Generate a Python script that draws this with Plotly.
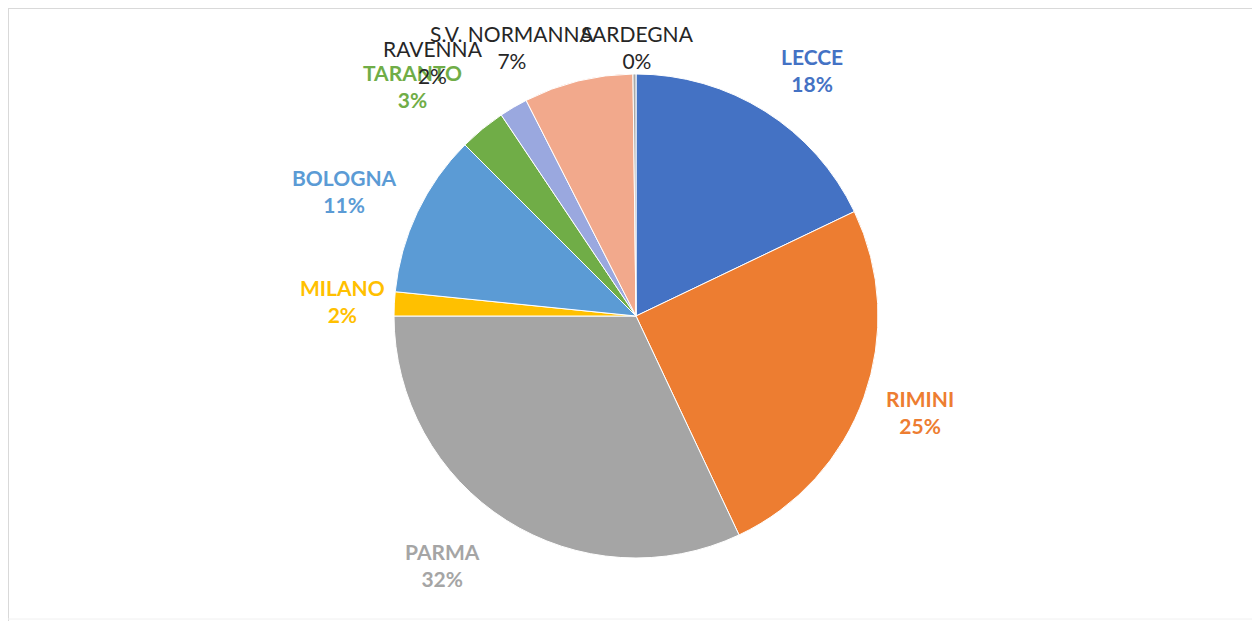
import plotly.graph_objects as go

# ---- data ----
labels = ["LECCE", "RIMINI", "PARMA", "MILANO", "BOLOGNA", "TARANTO",
          "RAVENNA", "S.V. NORMANNA", "SARDEGNA"]
values = [17.9, 25.1, 32.0, 1.6, 10.9, 3.1, 1.9, 7.3, 0.2]
colors = ["#4472C4", "#ED7D31", "#A5A5A5", "#FFC000", "#5B9BD5", "#70AD47",
          "#9AA8DF", "#F2A98C", "#A9A9A9"]
label_colors = ["#4472C4", "#ED7D31", "#A5A5A5", "#FFC000", "#5B9BD5", "#70AD47",
                "#262626", "#262626", "#262626"]
label_bold = [True, True, True, True, True, True, False, False, False]

# label anchor positions (target pixel coordinates) - styling only
label_px = [(812, 70), (920, 412), (442, 565), (342, 301), (344, 191),
            (412, 86), (433, 62), (512, 47), (637, 47)]

W, H = 1260, 621
OFF = 8  # page body margin offset in the browser
cx, cy, r = 636 - OFF, 316 - OFF, 242


def px_x(x):
    return (x - OFF) / W


def px_y(y):
    return 1 - (y - OFF) / H


fig = go.Figure(go.Pie(
    labels=labels, values=values, sort=False, direction="clockwise", rotation=0,
    marker=dict(colors=colors, line=dict(color="white", width=1)),
    textinfo="none", hoverinfo="label+percent", showlegend=False,
    domain=dict(x=[(cx - r) / W, (cx + r) / W], y=[(H - cy - r) / H, (H - cy + r) / H]),
))

total = sum(values)
annotations = []
for lab, v, col, b, (px, py) in zip(labels, values, label_colors, label_bold, label_px):
    pct = round(v / total * 100)
    txt = f"{lab}<br>{pct}%"
    if b:
        txt = f"<b>{lab}</b><br><b>{pct}%</b>"
    annotations.append(dict(
        x=px_x(px), y=px_y(py), xref="paper", yref="paper", text=txt, showarrow=False,
        font=dict(family="Lato, Open Sans, sans-serif", size=21, color=col),
        xanchor="center", yanchor="middle", align="center",
    ))

frame = [
    # top
    dict(type="line", xref="paper", yref="paper", x0=px_x(8), x1=1.2, y0=px_y(8), y1=px_y(8),
         line=dict(color="#D9D9D9", width=2)),
    # left
    dict(type="line", xref="paper", yref="paper", x0=px_x(8), x1=px_x(8), y0=px_y(8), y1=-0.2,
         line=dict(color="#D9D9D9", width=2)),
    # bottom (faint)
    dict(type="line", xref="paper", yref="paper", x0=px_x(8), x1=1.2, y0=px_y(619), y1=px_y(619),
         line=dict(color="#F0F0F0", width=1)),
]

fig.update_layout(
    width=W, height=H, margin=dict(l=0, r=0, t=0, b=0),
    paper_bgcolor="white", plot_bgcolor="white",
    annotations=annotations,
    shapes=frame,
)

fig.write_html("out.html")
